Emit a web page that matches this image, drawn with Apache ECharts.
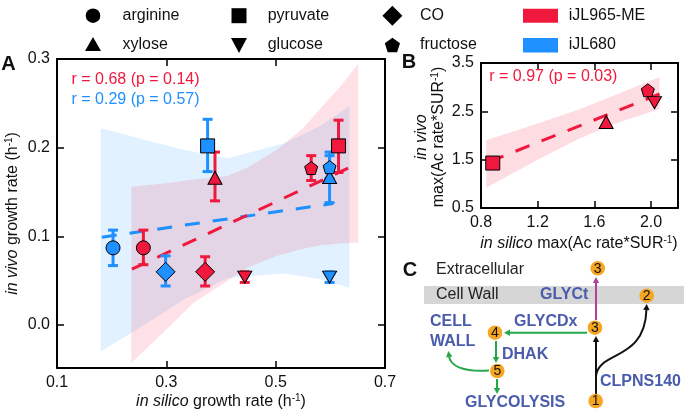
<!DOCTYPE html>
<html><head><meta charset="utf-8">
<script src="https://cdn.jsdelivr.net/npm/echarts@6/dist/echarts.min.js"></script>
<style>html,body{margin:0;padding:0;background:#fff}#c{width:684px;height:411px}</style>
</head><body><div id="c"></div>
<script>
// ---------- data ----------
const materials = ['arginine', 'pyruvate', 'CO', 'xylose', 'glucose', 'fructose'];
const modelNames = ['iJL965-ME', 'iJL680'];
// Panel A: iJL965-ME (red)
const silicoME  = [0.258, 0.615, 0.371, 0.389, 0.4435, 0.565];
const vivoME    = [0.087, 0.202, 0.060, 0.166, 0.054, 0.177];
const vivoMELo  = [0.068, 0.172, 0.044, 0.140, 0.048, 0.163];
const vivoMEHi  = [0.107, 0.231, 0.077, 0.195, 0.060, 0.191];
// Panel A: iJL680 (blue)
const silico680 = [0.2025, 0.3755, 0.2987, 0.5986, 0.5986, 0.5986];
const vivo680   = [0.087, 0.202, 0.060, 0.167, 0.054, 0.178];
const vivo680Lo = [0.067, 0.173, 0.044, 0.138, 0.048, 0.165];
const vivo680Hi = [0.107, 0.232, 0.078, 0.195, 0.060, 0.191];
// Panel A fits and confidence bands
const fitMEx = [0.237, 0.6325], fitMEy = [0.063, 0.177];
const fit680x = [0.182, 0.605], fit680y = [0.099, 0.137];
const bandMEx  = [0.236, 0.30, 0.35, 0.412, 0.45, 0.503, 0.55, 0.583, 0.62, 0.651];
const bandMELo = [-0.043, -0.005, 0.025, 0.050, 0.065, 0.078, 0.086, 0.090, 0.092, 0.093];
const bandMEHi = [0.156, 0.160, 0.164, 0.168, 0.178, 0.198, 0.222, 0.245, 0.270, 0.295];
const band680x  = [0.180, 0.236, 0.33, 0.412, 0.516, 0.58, 0.635];
const band680Lo = [-0.030, -0.009, 0.028, 0.053, 0.058, 0.052, 0.042];
const band680Hi = [0.222, 0.213, 0.198, 0.188, 0.205, 0.224, 0.247];
// Panel B (iJL965-ME)
const materialsB = ['pyruvate', 'xylose', 'fructose', 'glucose'];
const silicoB = [0.883, 1.683, 1.977, 2.024];
const vivoB   = [1.43, 2.28, 2.935, 2.68];
const fitBx = [0.86, 2.07], fitBy = [1.46, 2.87];
const bandBx  = [0.837, 1.2, 1.5, 1.8, 2.06];
const bandBLo = [0.92, 1.50, 1.95, 2.30, 2.55];
const bandBHi = [1.90, 2.25, 2.55, 2.90, 3.21];
// tick labels
const ticksAx = [0.1, 0.3, 0.5, 0.7];
const ticksAy = [0.0, 0.1, 0.2, 0.3];
const ticksBx = [0.8, 1.2, 1.6, 2.0];
const ticksBy = [0.5, 1.5, 2.5, 3.5];

// ---------- styles ----------
const RED = '#F0183C', BLUE = '#1E90FF';
const FONT = 'Liberation Sans';
const PENT = 'path://M0,-10L9.51,-3.09L5.88,8.09L-5.88,8.09L-9.51,-3.09Z';
const SYM = {
  arginine: {symbol: 'circle', symbolSize: 14},
  pyruvate: {symbol: 'rect', symbolSize: 14},
  CO: {symbol: 'diamond', symbolSize: [19, 19]},
  xylose: {symbol: 'triangle', symbolSize: [14, 13]},
  glucose: {symbol: 'triangle', symbolSize: [14, 12], symbolRotate: 180},
  fructose: {symbol: PENT, symbolSize: [13, 13]}
};

function axisCfg(pos, gi, min, max, vals, show) {
  return {
    type: 'value', gridIndex: gi, position: pos, min: min, max: max,
    splitLine: {show: false},
    axisLine: {show: true, onZero: false, lineStyle: {color: '#000', width: 2}},
    axisTick: {show: true, inside: true, length: 7, customValues: vals, lineStyle: {color: '#000', width: 1.5}},
    axisLabel: {show: show, customValues: vals, margin: 7, color: '#111', fontSize: 16, fontFamily: FONT,
      formatter: v => v.toFixed(1)}
  };
}

function scatter(xs, ys, names, color, xi, yi) {
  return {
    type: 'scatter', xAxisIndex: xi, yAxisIndex: yi, z: 5, silent: true,
    itemStyle: {color: color, borderColor: '#000', borderWidth: 1, opacity: 1},
    data: xs.map((x, i) => Object.assign({value: [x, ys[i]]}, SYM[names[i]]))
  };
}
function errBars(xs, lo, hi, color, xi, yi) {
  return {
    type: 'custom', xAxisIndex: xi, yAxisIndex: yi, z: 4, silent: true,
    encode: {x: 0, y: [1, 2]},
    data: xs.map((x, i) => [x, lo[i], hi[i]]),
    renderItem(params, api) {
      const x = api.value(0);
      const a = api.coord([x, api.value(1)]), b = api.coord([x, api.value(2)]);
      const cw = 5, st = {stroke: color, lineWidth: 3};
      return {type: 'group', children: [
        {type: 'line', shape: {x1: a[0], y1: a[1], x2: b[0], y2: b[1]}, style: st},
        {type: 'line', shape: {x1: a[0] - cw, y1: a[1], x2: a[0] + cw, y2: a[1]}, style: st},
        {type: 'line', shape: {x1: b[0] - cw, y1: b[1], x2: b[0] + cw, y2: b[1]}, style: st}
      ]};
    }
  };
}
function band(xs, lo, hi, fill, xi, yi) {
  return {
    type: 'custom', xAxisIndex: xi, yAxisIndex: yi, z: 1, silent: true,
    data: [[xs[0], lo[0]]],
    renderItem(params, api) {
      const pts = [];
      xs.forEach((x, i) => pts.push(api.coord([x, hi[i]])));
      for (let i = xs.length - 1; i >= 0; i--) pts.push(api.coord([xs[i], lo[i]]));
      return {type: 'polygon', shape: {points: pts}, style: {fill: fill}};
    }
  };
}
function fitLine(xs, ys, color, xi, yi) {
  return {
    type: 'line', xAxisIndex: xi, yAxisIndex: yi, z: 3, silent: true, symbol: 'none',
    lineStyle: {color: color, width: 3, type: [15, 13]},
    data: xs.map((x, i) => [x, ys[i]])
  };
}

// ---------- graphic helpers ----------
function txt(x, y, text, o) {
  o = o || {};
  return {type: 'text', x: x, y: y, rotation: o.rot || 0, z: 10, silent: true,
    style: Object.assign({text: text, fill: o.color || '#111', fontSize: o.size || 16,
      fontFamily: FONT, fontWeight: o.weight || 'normal', align: o.align || 'left',
      verticalAlign: 'middle', lineHeight: o.lh || 18}, o.rich ? {rich: o.rich} : {})};
}
const RICH = {
  i: {fontStyle: 'italic', fontSize: 16, fontFamily: FONT, fill: '#111', lineHeight: 17},
  s: {fontSize: 10, fontFamily: FONT, fill: '#111', verticalAlign: 'top', lineHeight: 17}
};
function poly(pts, fill) { return {type: 'polygon', z: 10, silent: true, shape: {points: pts}, style: {fill: fill}}; }
function head(tx, ty, dx, dy, color) {
  const L = Math.hypot(dx, dy); dx /= L; dy /= L;
  const len = 6, w = 3.2, bx = tx - dx * len, by = ty - dy * len;
  return poly([[tx, ty], [bx - dy * w, by + dx * w], [bx + dy * w, by - dx * w]], color);
}
function seg(x1, y1, x2, y2, color) {
  return {type: 'line', z: 9, silent: true, shape: {x1, y1, x2, y2}, style: {stroke: color, lineWidth: 2}};
}
function node(cx, cy, label) {
  return [
    {type: 'circle', z: 11, silent: true, shape: {cx, cy, r: 7.3}, style: {fill: '#F6A623'}},
    {type: 'text', z: 12, silent: true, x: cx, y: cy + 0.5, style: {text: label, fill: '#111', fontSize: 14, fontFamily: FONT, align: 'center', verticalAlign: 'middle'}}
  ];
}

// legend
const legend = [];
const lr1 = 15.7, lr2 = 45;
legend.push({type: 'circle', shape: {cx: 93, cy: lr1, r: 7.3}, style: {fill: '#000'}});
legend.push(poly([[93, lr2 - 8], [101, lr2 + 6], [85, lr2 + 6]], '#000'));
legend.push({type: 'rect', shape: {x: 231.5, y: lr1 - 7.5, width: 15, height: 15}, style: {fill: '#000'}});
legend.push(poly([[231, lr2 - 7], [247, lr2 - 7], [239, lr2 + 8]], '#000'));
legend.push(poly([[392.4, lr1 - 10], [402.4, lr1], [392.4, lr1 + 10], [382.4, lr1]], '#000'));
legend.push(poly([0, 1, 2, 3, 4].map(k => [392.4 + 8 * Math.sin(k * 2 * Math.PI / 5), lr2 + 0.8 - 8 * Math.cos(k * 2 * Math.PI / 5)]), '#000'));
legend.push({type: 'rect', shape: {x: 523, y: 8.7, width: 35, height: 14}, style: {fill: RED}});
legend.push({type: 'rect', shape: {x: 523, y: 38, width: 35, height: 14.5}, style: {fill: BLUE}});
legend.forEach(e => { e.z = 10; e.silent = true; });
legend.push(txt(122.5, lr1, materials[0]), txt(122.5, lr2, materials[3]),
  txt(267.7, lr1, materials[1]), txt(267.7, lr2, materials[4]),
  txt(420, lr1, materials[2]), txt(420, lr2, materials[5]),
  txt(568.7, lr1, modelNames[0]), txt(568.7, lr2, modelNames[1]));

// panel C
const BL = '#4A5CAB', GR = '#25A84A', PU = '#B040A0';
const C = [];
C.push({type: 'rect', z: 8, silent: true, shape: {x: 424, y: 286, width: 260, height: 18}, style: {fill: '#D6D6D6'}});
C.push(txt(436, 270, 'Extracellular', {color: '#222'}));
C.push(txt(436, 295, 'Cell Wall', {color: '#222'}));
C.push(txt(540, 295, 'GLYCt', {color: BL, weight: 'bold'}));
C.push(txt(430, 321.7, 'CELL', {color: BL, weight: 'bold'}));
C.push(txt(430, 341.7, 'WALL', {color: BL, weight: 'bold'}));
C.push(txt(514, 321.7, 'GLYCDx', {color: BL, weight: 'bold'}));
C.push(txt(502, 355, 'DHAK', {color: BL, weight: 'bold'}));
C.push(txt(600, 381.7, 'CLPNS140', {color: BL, weight: 'bold'}));
C.push(txt(465, 402.7, 'GLYCOLYSIS', {color: BL, weight: 'bold'}));
// arrows
C.push(seg(596, 320, 596, 281, PU), head(596, 277, 0, -1, PU));
C.push(seg(596, 394, 596, 341, '#111'), head(596, 336, 0, -1, '#111'));
C.push({type: 'bezierCurve', z: 9, silent: true, shape: {x1: 596, y1: 376, cpx1: 599, cpy1: 350, cpx2: 645, cpy2: 362, x2: 646.5, y2: 309},
  style: {stroke: '#111', lineWidth: 2, fill: null}});
C.push(head(646.7, 304, 0.05, -1, '#111'));
C.push(seg(587, 332.7, 509, 332.7, GR), head(504, 332.7, -1, 0, GR));
C.push(seg(496, 341, 496, 358, GR), head(496, 363, 0, 1, GR));
C.push(seg(497, 379, 497, 389, GR), head(497, 394, 0, 1, GR));
C.push({type: 'bezierCurve', z: 9, silent: true, shape: {x1: 489, y1: 370.5, cpx1: 463, cpy1: 372, cpx2: 450, cpy2: 366, x2: 449, y2: 356},
  style: {stroke: GR, lineWidth: 2, fill: null}});
C.push(head(448.3, 351, -0.15, -1, GR));
C.push(...node(597.7, 268.3, '3'), ...node(646.7, 295.7, '2'), ...node(595, 327.7, '3'),
  ...node(495, 332.7, '4'), ...node(497.3, 371, '5'), ...node(595.7, 401, '1'));

const labels = [
  txt(8.5, 64, 'A', {weight: 'bold', size: 20, align: 'center'}),
  txt(409, 62, 'B', {weight: 'bold', size: 20, align: 'center'}),
  txt(410, 270, 'C', {weight: 'bold', size: 20, align: 'center'}),
  txt(71.5, 80, 'r = 0.68 (p = 0.14)', {color: RED}),
  txt(71.5, 99.3, 'r = 0.29 (p = 0.57)', {color: BLUE}),
  txt(489.3, 76.7, 'r = 0.97 (p = 0.03)', {color: RED}),
  txt(221, 401.5, '{i|in silico} growth rate (h{s|-1})', {align: 'center', rich: RICH, lh: 17}),
  txt(13, 213.5, '{i|in vivo} growth rate (h{s|-1})', {align: 'center', rich: RICH, lh: 17, rot: Math.PI / 2}),
  txt(579, 243.3, '{i|in silico} max(Ac rate*SUR{s|-1})', {align: 'center', rich: RICH, lh: 17}),
  txt(430.5, 137, '{i|in vivo}\nmax(Ac rate*SUR{s|-1})', {align: 'center', rich: RICH, lh: 17, rot: Math.PI / 2})
];

const chart = echarts.init(document.getElementById('c'), null, {renderer: 'canvas'});
chart.setOption({
  animation: false,
  backgroundColor: '#fff',
  grid: [
    {left: 57, top: 59, width: 328, height: 309},
    {left: 481, top: 63, width: 197, height: 145}
  ],
  xAxis: [
    axisCfg('bottom', 0, 0.1, 0.7, ticksAx, true),
    axisCfg('top', 0, 0.1, 0.7, ticksAx, false),
    axisCfg('bottom', 1, 0.8, 2.19, ticksBx, true),
    axisCfg('top', 1, 0.8, 2.19, ticksBx, false)
  ],
  yAxis: [
    axisCfg('left', 0, -0.0485, 0.3, ticksAy, true),
    axisCfg('right', 0, -0.0485, 0.3, ticksAy, false),
    axisCfg('left', 1, 0.5, 3.5, ticksBy, true),
    axisCfg('right', 1, 0.5, 3.5, ticksBy, false)
  ],
  series: [
    band(band680x, band680Lo, band680Hi, 'rgba(30,144,255,0.13)', 0, 0),
    band(bandMEx, bandMELo, bandMEHi, 'rgba(240,24,60,0.13)', 0, 0),
    fitLine(fit680x, fit680y, BLUE, 0, 0),
    fitLine(fitMEx, fitMEy, RED, 0, 0),
    errBars(silico680, vivo680Lo, vivo680Hi, BLUE, 0, 0),
    errBars(silicoME, vivoMELo, vivoMEHi, RED, 0, 0),
    scatter(silico680, vivo680, materials, BLUE, 0, 0),
    scatter(silicoME, vivoME, materials, RED, 0, 0),
    band(bandBx, bandBLo, bandBHi, 'rgba(240,24,60,0.15)', 2, 2),
    fitLine(fitBx, fitBy, RED, 2, 2),
    scatter(silicoB, vivoB, materialsB, RED, 2, 2)
  ],
  graphic: [].concat(legend, C, labels)
});
</script></body></html>
